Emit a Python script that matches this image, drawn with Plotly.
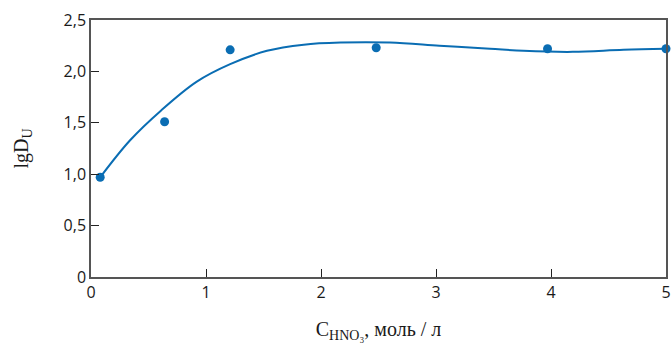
import plotly.graph_objects as go

# measured points
x_pts = [0.08, 0.64, 1.21, 2.48, 3.97, 5.0]
y_pts = [0.97, 1.51, 2.21, 2.23, 2.22, 2.22]

# fitted smooth curve
x_fit = [0.08, 0.34, 0.61, 0.92, 1.21, 1.53, 1.85, 2.17, 2.6, 3.03, 3.47, 3.76, 4.19, 4.63, 5.0]
y_fit = [0.97, 1.33, 1.62, 1.90, 2.07, 2.20, 2.26, 2.28, 2.28, 2.25, 2.22, 2.20, 2.19, 2.21, 2.22]

x_ticks = [0, 1, 2, 3, 4, 5]
y_ticks = [0, 0.5, 1.0, 1.5, 2.0, 2.5]
y_tick_text = ["0", "0,5", "1,0", "1,5", "2,0", "2,5"]

color = "#0a6db3"

fig = go.Figure()
fig.add_trace(go.Scatter(x=x_fit, y=y_fit, mode="lines",
                         line=dict(color=color, width=2, shape="spline", smoothing=1.0),
                         hoverinfo="skip", cliponaxis=False))
fig.add_trace(go.Scatter(x=x_pts, y=y_pts, mode="markers",
                         marker=dict(color=color, size=9), cliponaxis=False))

tick_font = dict(family="Open Sans, Noto Sans, sans-serif", size=16, color="#1a1a1a")
title_font = dict(family="Liberation Serif, serif", size=20, color="#1a1a1a")
fig.update_layout(
    width=672, height=349,
    margin=dict(l=91, r=6, t=20, b=72),
    plot_bgcolor="white", paper_bgcolor="white",
    showlegend=False,
    xaxis=dict(range=[0, 5], tickvals=x_ticks, ticktext=[str(v) for v in x_ticks],
               ticks="inside", ticklen=8, tickcolor="#222", tickwidth=1,
               showline=True, linecolor="#555", linewidth=1.5, mirror=True,
               showgrid=False, zeroline=False, tickfont=tick_font, automargin=False,
               title=dict(text="C<sub>HNO₃</sub>, моль / л", font=title_font, standoff=20)),
    yaxis=dict(range=[0, 2.5], tickvals=y_ticks, ticktext=y_tick_text,
               ticks="inside", ticklen=8, tickcolor="#222", tickwidth=1,
               showline=True, linecolor="#555", linewidth=1.5, mirror=True,
               showgrid=False, zeroline=False, tickfont=tick_font, automargin=False,
               title=dict(text="lgD<sub>U</sub>", font=title_font, standoff=30)),
)

fig.write_html("out.html")
